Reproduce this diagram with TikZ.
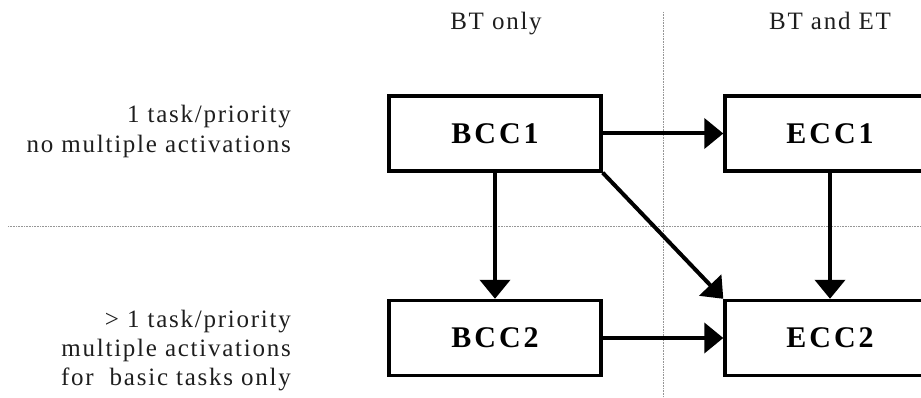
\documentclass[tikz,border=0pt]{standalone}
\usepackage{fontspec}
\setmainfont{Liberation Serif}
\newfontfamily\lblfont[LetterSpace=7]{Liberation Serif}
\newfontfamily\boxfont[LetterSpace=10]{Liberation Serif}
\usetikzlibrary{arrows.meta}
\definecolor{gridgray}{RGB}{150,150,150}
\definecolor{txtgray}{RGB}{30,30,30}
\tikzset{
  ccbox/.style={draw=black, line width=3.4pt, minimum height=75pt, inner sep=0pt,
    font=\boxfont\bfseries\fontsize{30}{32}\selectfont},
  lbl/.style={inner sep=0pt, text=txtgray, font=\lblfont\fontsize{25}{30}\selectfont},
  conn/.style={line width=4pt, -{Triangle[length=19pt,width=30pt]}},
  gridline/.style={draw=gridgray, line width=0.9pt, dash pattern=on 1pt off 0.6pt}
}
\begin{document}
\begin{tikzpicture}[x=1pt,y=-1pt]
\useasboundingbox (0,0) rectangle (921,398);
\clip (0,0) rectangle (921,398);
% grid lines
\coordinate (hl) at (8,226);
\coordinate (hr) at (921,226);
\coordinate (vt) at (663,12);
\coordinate (vb) at (663,398);
\draw[gridline] (hl) -- (hr);
\draw[gridline] (vt) -- (vb);
% headers
\node[lbl, anchor=base] (h1) at (496,30) {BT only};
\node[lbl, anchor=base] (h2) at (830,30) {BT and ET};
% left labels
\node[lbl, anchor=base east] (a1) at (291,123) {1 task/priority};
\node[lbl, anchor=base east] (a2) at (291,153) {no multiple activations};
\node[lbl, anchor=base east] (b1) at (291,327) {> 1 task/priority};
\node[lbl, anchor=base east] (b2) at (291,356) {multiple activations};
\node[lbl, anchor=base east] (b3) at (291,385) {for\ \ basic tasks only};
% boxes
\node[ccbox, minimum width=212pt] (bcc1) at (495,133.5) {BCC1};
\node[ccbox, minimum width=210pt] (ecc1) at (830,133.5) {ECC1};
\node[ccbox, minimum width=212pt] (bcc2) at (495,338) {BCC2};
\node[ccbox, minimum width=210pt] (ecc2) at (830,338) {ECC2};
% connectors
\draw[conn] (bcc1.east) -- (ecc1.west);
\draw[conn] (bcc2.east) -- (ecc2.west);
\draw[conn] (bcc1.south) -- (bcc2.north);
\draw[conn] (ecc1.south) -- (ecc2.north);
\draw[conn] (bcc1.south east) -- (ecc2.north west);
\end{tikzpicture}
\end{document}
